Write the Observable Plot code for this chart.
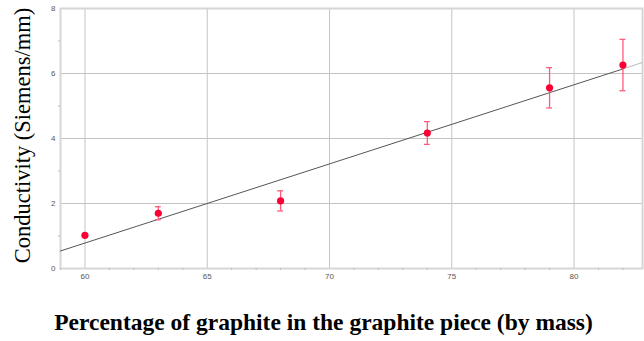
<!DOCTYPE html>
<html>
<head>
<meta charset="utf-8">
<script src="https://cdn.jsdelivr.net/npm/d3@7"></script>
<script src="https://cdn.jsdelivr.net/npm/@observablehq/plot@0.6"></script>
<style>
  html, body { margin: 0; padding: 0; background: #fff; }
</style>
</head>
<body>
<div id="chart"></div>
<script>
// Data
const graphite = [60, 63, 68, 74, 79, 82];
const conductivity = [1.02, 1.70, 2.08, 4.17, 5.56, 6.26];
const errors = [0, 0.20, 0.31, 0.35, 0.62, 0.79];
// Trend line (least squares) endpoints
const fitX = [59, 82, 82.8];
const fitY = [0.54, 6.14, 6.34];
const xTicks = [60, 65, 70, 75, 80];
const xMinor = [59, 61, 62, 63, 64, 66, 67, 68, 69, 71, 72, 73, 74, 76, 77, 78, 79, 81, 82];
const yTicks = [0, 2, 4, 6, 8];
const yMinor = [1, 3, 5, 7];
const xTitle = "Percentage of graphite in the graphite piece (by mass)";
const yTitle = "Conductivity (Siemens/mm)";

const pts = graphite.map((g, i) => ({x: g, y: conductivity[i], e: errors[i]}));
const fitDark = fitX.slice(0, 2).map((x, i) => ({x, y: fitY[i]}));
const fitLight = fitX.slice(1).map((x, i) => ({x, y: fitY[i + 1]}));
const errPts = pts.filter(d => d.e > 0);

const chart = Plot.plot({
  width: 644,
  height: 341,
  marginLeft: 60,
  marginRight: 2,
  marginTop: 8,
  marginBottom: 73,
  style: {background: "#fff"},
  x: {domain: [59, 82.8]},
  y: {domain: [0, 8]},
  marks: [
    Plot.gridX(xTicks, {stroke: "#c4c4c4", strokeOpacity: 1}),
    Plot.gridY(yTicks.slice(1), {stroke: "#c4c4c4", strokeOpacity: 1}),
    Plot.frame({stroke: "#d6d6d6", strokeWidth: 2}),
    Plot.axisX({ticks: xTicks, tickSize: 0, tickPadding: 5, fontSize: 8, fontFamily: "Liberation Sans", color: "#555", label: null}),
    Plot.axisX({ticks: xMinor, tickSize: 2, tickFormat: () => "", label: null, stroke: "#bbb"}),
    Plot.axisY({ticks: yTicks, tickSize: 0, tickPadding: 5, fontSize: 8, fontFamily: "Liberation Sans", color: "#555", label: null}),
    Plot.axisY({ticks: yMinor, tickSize: 2, tickFormat: () => "", label: null, stroke: "#bbb"}),
    Plot.line(fitDark, {x: "x", y: "y", stroke: "#555", strokeWidth: 1}),
    Plot.line(fitLight, {x: "x", y: "y", stroke: "#bbb", strokeWidth: 1}),
    Plot.ruleX(errPts, {x: "x", y1: d => d.y - d.e, y2: d => d.y + d.e, stroke: "#ff5a7c", strokeWidth: 1.3}),
    Plot.ruleY(errPts, {y: d => d.y - d.e, x1: d => d.x - 0.12, x2: d => d.x + 0.12, stroke: "#ff5a7c", strokeWidth: 1.3}),
    Plot.ruleY(errPts, {y: d => d.y + d.e, x1: d => d.x - 0.12, x2: d => d.x + 0.12, stroke: "#ff5a7c", strokeWidth: 1.3}),
    Plot.dot(pts, {x: "x", y: "y", r: 3.6, fill: "#fa0035", stroke: "none"}),
    Plot.text([yTitle], {frameAnchor: "left", textAnchor: "middle", rotate: -90, dx: -38, dy: -3, fontFamily: "Liberation Serif", fontSize: 22.5, fill: "#000"}),
    Plot.text([xTitle], {frameAnchor: "bottom", textAnchor: "middle", dy: 61, dx: -28, fontFamily: "Liberation Serif", fontWeight: "bold", fontSize: 23.5, fill: "#000"})
  ]
});
document.getElementById("chart").appendChild(chart);
</script>
</body>
</html>
